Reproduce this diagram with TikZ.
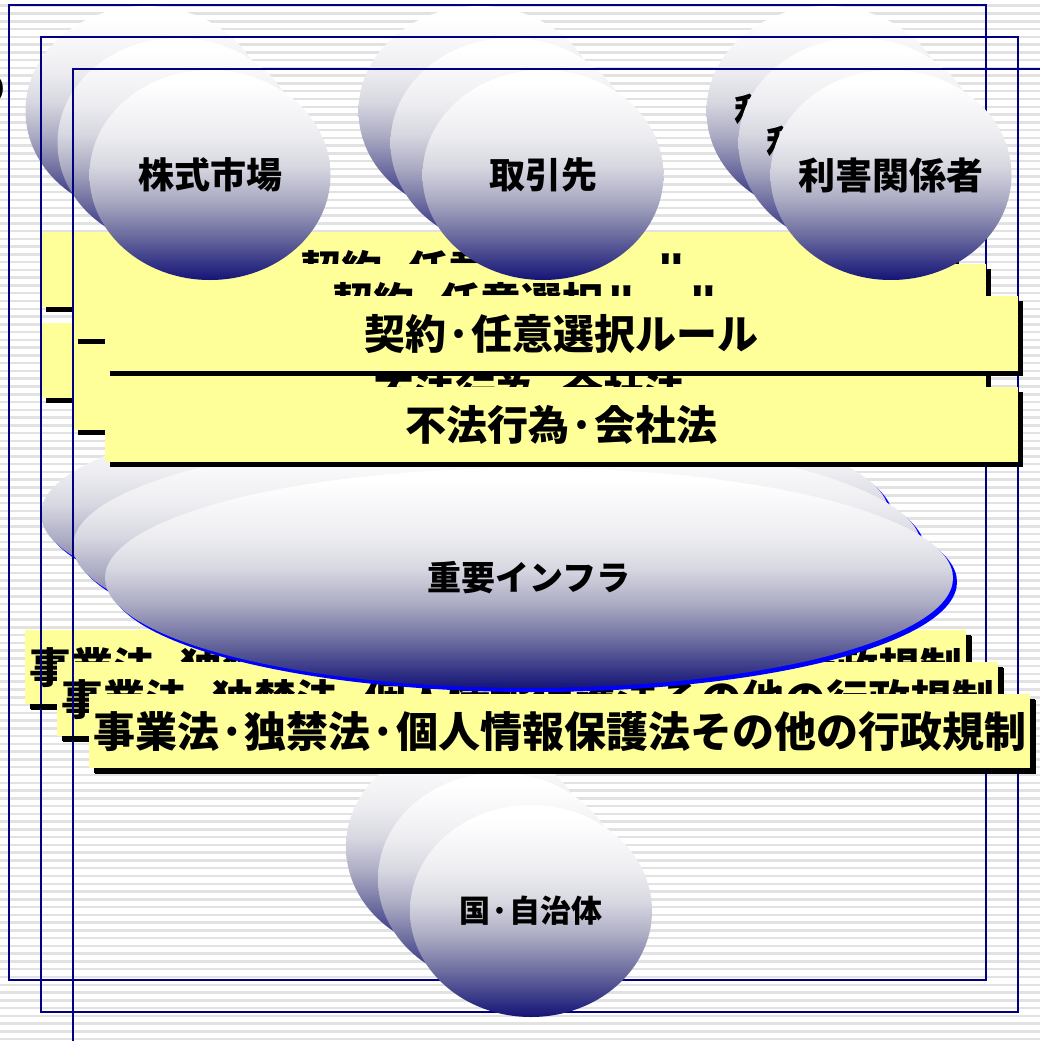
\documentclass[tikz,border=0pt]{standalone}
\usepackage{fontspec}
\setmainfont{Noto Sans CJK JP}
\usetikzlibrary{shapes.geometric,shadows}
\definecolor{fnavy}{RGB}{0,0,128}
\definecolor{boxyellow}{RGB}{255,255,153}
\definecolor{stripegray}{RGB}{226,226,226}
\definecolor{bnavy}{RGB}{20,20,120}
\definecolor{bone}{RGB}{110,110,160}
\definecolor{btwo}{RGB}{170,170,195}
\definecolor{bthree}{RGB}{215,215,225}
\definecolor{bfour}{RGB}{238,238,242}
\pgfdeclareverticalshading{ballshade}{100bp}{color(0bp)=(bnavy); color(25bp)=(bnavy); color(36bp)=(bone); color(44bp)=(btwo); color(52bp)=(bthree); color(60bp)=(bfour); color(72bp)=(white); color(100bp)=(white)}
\newcommand\zw[1]{\makebox[0pt]{#1}}
\tikzset{
  slideframe/.style={draw=fnavy, line width=2pt},
  ballnode/.style={ellipse, inner sep=0pt, shade, shading=ballshade, text=black},
  bigball/.style={ballnode, drop shadow={shadow xshift=4pt, shadow yshift=-4pt, fill=blue, opacity=1}},
  ybox/.style={rectangle, fill=boxyellow, inner sep=0pt, anchor=north west, text=black,
    drop shadow={shadow xshift=5pt, shadow yshift=-5pt, fill=black, opacity=1}},
  bulletbar/.style={line width=4pt, black},
  fragtext/.style={inner sep=0pt, text=black, font=\bfseries\fontsize{36}{40}\selectfont},
}
\newcommand\slidecopy[3]{%
  \begin{scope}[shift={#1}]
    \draw[slideframe] (73,69) rectangle (1050,1044);
    \node[ballnode, minimum width=241pt, minimum height=210pt, font=\bfseries\fontsize{36}{40}\selectfont] (kabu#2) at (210,175) {\zw{株式市場}};
    \node[ballnode, minimum width=241pt, minimum height=210pt, font=\bfseries\fontsize{36}{40}\selectfont] (tori#2) at (543,175) {\zw{取引先}};
    \node[ballnode, minimum width=241pt, minimum height=210pt, font=\bfseries\fontsize{37}{40}\selectfont] (rigai#2) at (891,175) {\zw{利害関係者}};
    \node[ybox, minimum width=913pt, minimum height=75pt, font=\bfseries\fontsize{41}{48}\selectfont] (keiyaku#2) at (105,296) {契約·任意選択ルール};
    \node[ybox, minimum width=913pt, minimum height=75pt, font=\bfseries\fontsize{41}{48}\selectfont] (fuho#2) at (105,387) {不法行為·会社法};
    \ifnum#3=1
      \draw[bulletbar] (78,342) -- (105,342);
      \draw[bulletbar] (78,432) -- (105,432);
    \fi
    \node[bigball, minimum width=848pt, minimum height=220pt, font=\bfseries\fontsize{34}{40}\selectfont] (infra#2) at (529,578) {\zw{重要インフラ}};
    \node[ybox, minimum width=941pt, minimum height=74pt, font=\bfseries\fontsize{42}{48}\selectfont,
      drop shadow={shadow xshift=6pt, shadow yshift=-6pt, fill=black, opacity=1}] (jigyo#2) at (89,694) {事業法·独禁法·個人情報保護法その他の行政規制};
    \ifnum#3=1
      \draw[bulletbar] (63,738) -- (89,738);
    \fi
    \node[ballnode, minimum width=242pt, minimum height=212pt, font=\bfseries\fontsize{31}{34}\selectfont] (kuni#2) at (531,911) {\zw{国·自治体}};
  \end{scope}}
\begin{document}
\begin{tikzpicture}[x=1pt,y=-1pt]
\useasboundingbox (0,0) rectangle (1040,1041);
\fill[white] (0,0) rectangle (1040,1041);
\foreach \k in {0,...,133} \fill[stripegray] (0,4.5+7.77*\k) rectangle (1040,7.0+7.77*\k);
\node[fragtext, anchor=east] (frag) at (10,90) {り};
\slidecopy{(-64,-64)}{a}{0}
\slidecopy{(-32,-32)}{b}{1}
\slidecopy{(0,0)}{c}{1}
\end{tikzpicture}
\end{document}
